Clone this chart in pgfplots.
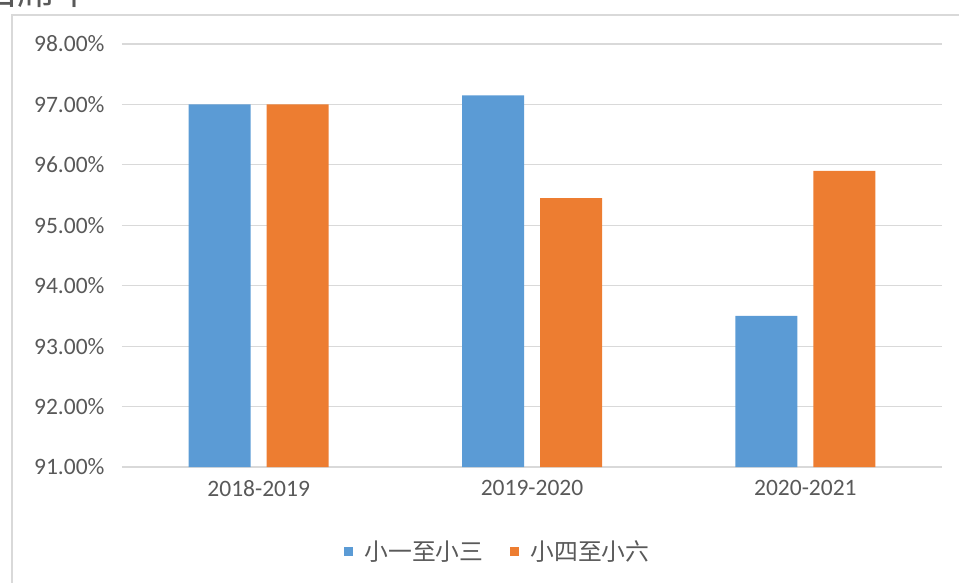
\documentclass[border=0pt]{standalone}
\usepackage{pgfplots}
\pgfplotsset{compat=1.18}
\usepackage{fontspec}
\setmainfont{Carlito}
\newfontfamily\cjk{Noto Sans CJK TC}
\definecolor{cblue}{HTML}{5B9BD5}
\definecolor{corange}{HTML}{ED7D31}
\definecolor{gridc}{HTML}{D9D9D9}
\definecolor{txt}{HTML}{595959}
\begin{document}
\begin{tikzpicture}
\useasboundingbox (-122bp,-116bp) rectangle (837bp,467bp);
\draw[gridc, line width=1.2bp] (-110bp,-130bp) -- (-110bp,452bp) -- (850bp,452bp);
\node[anchor=base west, inner sep=0pt, text=txt, font=\cjk\fontsize{38bp}{40bp}\selectfont] at (-143bp,462bp) {出席率};
\begin{axis}[
  at={(0,0)}, anchor=south west,
  scale only axis, width=820bp, height=423bp,
  ybar=16bp, bar width=62bp,
  xmin=-0.5, xmax=2.5, ymin=91, ymax=98,
  xtick={0,1,2}, xticklabels={2018-2019,2019-2020,2020-2021},
  ytick={91,92,93,94,95,96,97,98},
  yticklabel={\pgfmathprintnumber[fixed,fixed zerofill,precision=2]{\tick}\%},
  /pgf/number format/assume math mode=true,
  ymajorgrids, grid style={gridc, line width=1.2bp},
  axis line style={draw=none},
  major tick length=0pt,
  tick label style={text=txt, font=\fontsize{23.5bp}{26bp}\selectfont},
  yticklabel style={xshift=-14bp},
  xticklabel style={yshift=-10bp},
  legend columns=2,
  legend style={at={(375.5bp,-84bp)}, anchor=center, draw=none, fill=none,
    font=\cjk\fontsize{23.8bp}{26bp}\selectfont, text=txt,
    /tikz/every odd column/.append style={column sep=10bp},
    /tikz/every even column/.append style={column sep=24bp}},
  legend image code/.code={\fill[#1] (0bp,-4.5bp) rectangle (9bp,4.5bp);},
]
\addplot[fill=cblue, draw=none] coordinates {(0,97.00) (1,97.15) (2,93.50)};
\addplot[fill=corange, draw=none] coordinates {(0,97.00) (1,95.45) (2,95.90)};
\legend{小一至小三,小四至小六}
\end{axis}
\end{tikzpicture}
\end{document}
